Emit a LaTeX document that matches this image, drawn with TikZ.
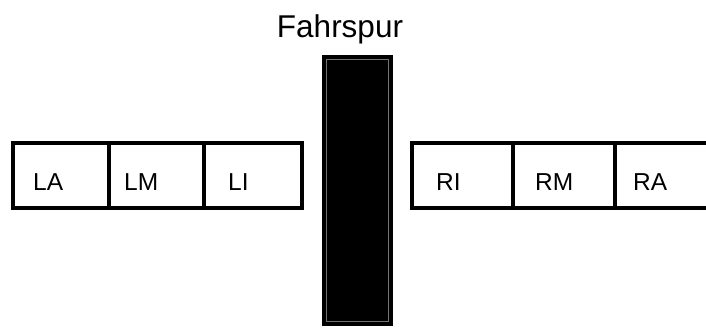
\documentclass[tikz,border=0pt]{standalone}
\usepackage{fontspec}
\setmainfont{Liberation Sans}
\begin{document}
\begin{tikzpicture}[x=1pt,y=-1pt,
  cell/.style={draw=black,line width=3.4pt,fill=white},
  lbl/.style={anchor=base west,inner sep=0pt,font=\fontsize{24.5}{28}\selectfont},
  lane/.style={fill=black,draw=black,line width=0.5pt}]
\useasboundingbox (0,0) rectangle (706,327);
% left cells
\draw[cell] (13,143) rectangle (109,208) coordinate (la);
\draw[cell] (109,143) rectangle (204,208) coordinate (lm);
\draw[cell] (204,143) rectangle (302,208) coordinate (li);
% right cells
\draw[cell] (412,143) rectangle (513,208) coordinate (ri);
\draw[cell] (513,143) rectangle (615,208) coordinate (rm);
\draw[cell] (615,143) rectangle (720,208) coordinate (ra);
% labels
\node[lbl] (tLA) at (33,190) {LA};
\node[lbl] (tLM) at (124,190) {LM};
\node[lbl] (tLI) at (228,190) {LI};
\node[lbl] (tRI) at (436,190) {RI};
\node[lbl] (tRM) at (535,190) {RM};
\node[lbl] (tRA) at (633,190) {RA};
% lane
\draw[lane] (322,55) rectangle (392,325);
\draw[draw=black!55,line width=0.5pt] (326,59) rectangle (388,321);
\node[anchor=base,inner sep=0pt,font=\fontsize{31.5}{36}\selectfont] (fahr) at (340,37) {Fahrspur};
\end{tikzpicture}
\end{document}
